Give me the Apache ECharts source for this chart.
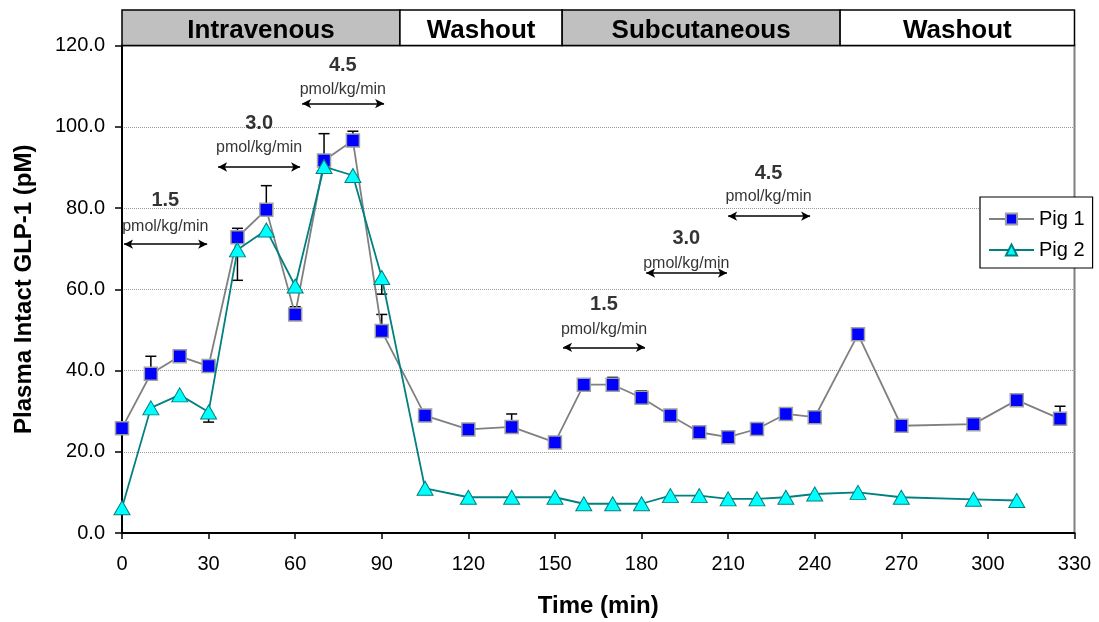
<!DOCTYPE html>
<html>
<head>
<meta charset="utf-8">
<script src="https://cdn.jsdelivr.net/npm/echarts@6/dist/echarts.min.js"></script>
<style>
html,body{margin:0;padding:0;background:#fff;}
#chart{width:1099px;height:622px;}
</style>
</head>
<body>
<div id="chart"></div>
<script>
// ---- data ----
const pig1Time = [0,10,20,30,40,50,60,70,80,90,105,120,135,150,160,170,180,190,200,210,220,230,240,255,270,295,310,325];
const pig1Value = [25.8,39.2,43.5,41.1,72.8,79.6,53.8,91.7,96.6,49.7,28.9,25.5,26.1,22.3,36.5,36.5,33.3,28.9,24.8,23.6,25.6,29.3,28.5,48.9,26.4,26.8,32.7,28.1];
const pig1ErrPlus = [0,4.3,0.5,0.3,2.2,5.9,1.9,6.6,2.3,4.1,0,0,3.2,0,1.0,1.8,1.7,0,1.6,0,0,0,0,1.5,0,0,0,3.1];

const pig2Time = [0,10,20,30,40,50,60,70,80,90,105,120,135,150,160,170,180,190,200,210,220,230,240,255,270,295,310];
const pig2Value = [6.2,30.8,34.0,29.8,69.7,74.6,60.8,90.2,88.0,62.9,11.0,8.8,8.8,8.8,7.2,7.2,7.2,9.2,9.2,8.4,8.4,8.8,9.6,10.0,8.8,8.3,8.0];
const pig2ErrMinus = [0,0,0,2.5,7.5,0,0,0,0,4.1,0,0,0,0,0,0,0,0,0,0,0,0,0,0,0,0,0];

const bandNames = ['Intravenous','Washout','Subcutaneous','Washout'];
const bandStart = [0,96.3,152.5,248.8];
const bandEnd = [96.3,152.5,248.8,330];

const doseLabels = ['1.5','3.0','4.5','1.5','3.0','4.5'];
const doseUnit = 'pmol/kg/min';
const doseX = [15,47.5,76.5,167,195.5,224];
const doseY = [81.8,100.8,115.1,56.3,72.4,88.4];
const unitY = [75.5,94.8,109.1,50.1,66.4,82.7];
const arrowStart = [0.7,33.3,62.4,152.8,181.6,210];
const arrowEnd = [29.5,61.7,90.8,181.2,209.6,238.4];
const arrowY = [71.1,90.1,105.7,45.7,64,78];

const xTicks = {min:0, max:330, interval:30};
const yTicks = {min:0, max:120, interval:20};

// ---- build ----
const FONT = "'Liberation Sans', Arial, sans-serif";
const errData = [];
pig1Time.forEach((t,i)=>{ if(pig1ErrPlus[i]>0) errData.push([t, pig1Value[i], pig1Value[i]+pig1ErrPlus[i]]); });
pig2Time.forEach((t,i)=>{ if(pig2ErrMinus[i]>0) errData.push([t, pig2Value[i], pig2Value[i]-pig2ErrMinus[i]]); });

const bandFill = ['#c0c0c0','#ffffff','#c0c0c0','#ffffff'];

const chart = echarts.init(document.getElementById('chart'), null, {renderer:'canvas'});
chart.setOption({
  animation:false,
  backgroundColor:'#fff',
  textStyle:{fontFamily:FONT},
  grid:[
    {left:122, right:24.5, top:45.5, bottom:89, show:true, borderColor:'#808080', borderWidth:2, backgroundColor:'transparent', outerBoundsMode:'none', containLabel:false},
    {left:122, right:24.5, top:10, height:35.5, show:false, outerBoundsMode:'none'}
  ],
  legend:{
    data:['Pig 1','Pig 2'],
    orient:'vertical', left:980, top:197,
    padding:[12,8,8,8], itemGap:11, itemWidth:45, itemHeight:14,
    backgroundColor:'#fff', borderColor:'#000', borderWidth:1.2, borderRadius:0,
    textStyle:{fontSize:20, color:'#000', fontFamily:FONT}
  },
  xAxis:[
    {type:'value', gridIndex:0, min:xTicks.min, max:xTicks.max, interval:xTicks.interval,
     name:'Time (min)', nameLocation:'middle', nameGap:61,
     nameTextStyle:{fontSize:24, fontWeight:'bold', color:'#000', fontFamily:FONT},
     axisLine:{lineStyle:{color:'#000', width:2}},
     axisTick:{show:true, inside:false, length:6, lineStyle:{color:'#000', width:1.5}},
     axisLabel:{fontSize:20, color:'#000', margin:21, fontFamily:FONT},
     splitLine:{show:false}},
    {type:'value', gridIndex:1, min:xTicks.min, max:xTicks.max, show:false}
  ],
  yAxis:[
    {type:'value', gridIndex:0, min:yTicks.min, max:yTicks.max, interval:yTicks.interval,
     name:'Plasma Intact GLP-1 (pM)', nameLocation:'middle', nameGap:86,
     nameTextStyle:{fontSize:24, fontWeight:'bold', color:'#000', fontFamily:FONT},
     axisLine:{show:true, lineStyle:{color:'#000', width:2}},
     axisTick:{show:true, inside:false, length:7, lineStyle:{color:'#000', width:1.5}},
     axisLabel:{fontSize:20, color:'#000', margin:17, fontFamily:FONT, formatter:v=>v.toFixed(1)},
     splitLine:{show:true, lineStyle:{color:'#999', type:'dotted', width:1}}},
    {type:'value', gridIndex:1, min:0, max:1, show:false}
  ],
  series:[
    {type:'custom', name:'band', xAxisIndex:1, yAxisIndex:1, silent:true, z:5,
     data: bandStart.map((s,i)=>[s, bandEnd[i], i]),
     encode:{x:[0,1]},
     renderItem:(params, api)=>{
       const i = api.value(2);
       const p0 = api.coord([api.value(0), 1]);
       const p1 = api.coord([api.value(1), 0]);
       return {type:'group', children:[
         {type:'rect', shape:{x:p0[0], y:p0[1], width:p1[0]-p0[0], height:p1[1]-p0[1]},
          style:{fill:bandFill[i], stroke:'#000', lineWidth:1.5}},
         {type:'text', style:{text:bandNames[i], x:(p0[0]+p1[0])/2, y:(p0[1]+p1[1])/2+3,
          align:'center', verticalAlign:'middle', fontSize:26, fontWeight:'bold', fontFamily:FONT, fill:'#000'}}
       ]};
     }},
    {type:'custom', name:'err', xAxisIndex:0, yAxisIndex:0, silent:true, z:1,
     data: errData, encode:{x:0, y:[1,2]},
     renderItem:(params, api)=>{
       const x = api.value(0);
       const a = api.coord([x, api.value(1)]);
       const b = api.coord([x, api.value(2)]);
       return {type:'group', children:[
         {type:'line', shape:{x1:a[0], y1:a[1], x2:b[0], y2:b[1]}, style:{stroke:'#000', lineWidth:1.5}},
         {type:'line', shape:{x1:b[0]-5.5, y1:b[1], x2:b[0]+5.5, y2:b[1]}, style:{stroke:'#000', lineWidth:1.5}}
       ]};
     }},
    {type:'line', name:'Pig 1', xAxisIndex:0, yAxisIndex:0, z:3,
     data: pig1Time.map((t,i)=>[t, pig1Value[i]]),
     symbol:'rect', symbolSize:13,
     lineStyle:{color:'#808080', width:1.8},
     itemStyle:{color:'#0000ff', borderColor:'#a0a0a0', borderWidth:1.5}},
    {type:'line', name:'Pig 2', xAxisIndex:0, yAxisIndex:0, z:4,
     data: pig2Time.map((t,i)=>[t, pig2Value[i]]),
     symbol:'triangle', symbolSize:[16,14],
     lineStyle:{color:'#008080', width:1.8},
     itemStyle:{color:'#00ffff', borderColor:'#008080', borderWidth:1}},
    {type:'scatter', name:'dose', xAxisIndex:0, yAxisIndex:0, symbolSize:0, silent:true, z:6,
     data: doseLabels.map((d,i)=>({name:d, value:[doseX[i], doseY[i]]})),
     label:{show:true, position:'inside', formatter:p=>p.name, fontSize:20, fontWeight:'bold', color:'#000', fontFamily:FONT},
     markLine:{silent:true, symbol:['arrow','arrow'], symbolSize:[7,9], label:{show:false},
       lineStyle:{color:'#000', width:1.5, type:'solid'},
       data: arrowStart.map((s,i)=>[{coord:[s, arrowY[i]]},{coord:[arrowEnd[i], arrowY[i]]}])}},
    {type:'scatter', name:'unit', xAxisIndex:0, yAxisIndex:0, symbolSize:0, silent:true, z:6,
     data: doseLabels.map((d,i)=>({name:doseUnit, value:[doseX[i], unitY[i]]})),
     label:{show:true, position:'inside', formatter:p=>p.name, fontSize:16, color:'#000', fontFamily:FONT}}
  ]
});
</script>
</body>
</html>
